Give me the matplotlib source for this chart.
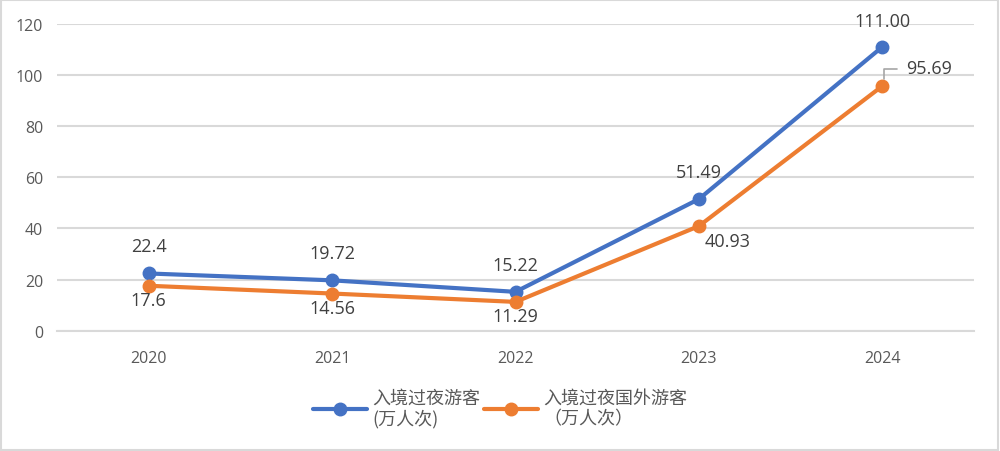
import matplotlib.pyplot as plt
import matplotlib.patches as mpatches

plt.rcParams['font.family'] = ['Noto Sans CJK SC', 'DejaVu Sans']

years = ['2020', '2021', '2022', '2023', '2024']
overnight = [22.4, 19.72, 15.22, 51.49, 111.00]
foreign = [17.6, 14.56, 11.29, 40.93, 95.69]
overnight_labels = ['22.4', '19.72', '15.22', '51.49', '111.00']
foreign_labels = ['17.6', '14.56', '11.29', '40.93', '95.69']

blue = '#4472C4'
orange = '#ED7D31'
grid_c = '#D9D9D9'
tick_c = '#595959'
lab_c = '#404040'
tick_font = ['Open Sans', 'DejaVu Sans']

fig = plt.figure(figsize=(10, 4.52), dpi=100)
ax = fig.add_axes([0.057, 0.266, 0.917, 0.679])

x = list(range(len(years)))
ax.plot(x, overnight, color=blue, lw=3, marker='o', ms=9, solid_capstyle='round',
        label='入境过夜游客\n(万人次)', zorder=3)
ax.plot(x, foreign, color=orange, lw=3, marker='o', ms=9, solid_capstyle='round',
        label='入境过夜国外游客\n（万人次）', zorder=3)

ax.set_xlim(-0.5, len(years) - 0.5)
ax.set_ylim(0, 120)
ax.set_yticks(range(0, 121, 20))
ax.set_xticks(x)
ax.set_xticklabels(years)
ax.yaxis.grid(True, color=grid_c, lw=1.5)
ax.set_axisbelow(True)
for s in ax.spines.values():
    s.set_visible(False)
ax.spines['bottom'].set_visible(True)
ax.spines['bottom'].set_color(grid_c)
ax.spines['bottom'].set_linewidth(1.5)
ax.tick_params(length=0, colors=tick_c, labelsize=11.5)
ax.tick_params(axis='x', pad=14)
ax.tick_params(axis='y', pad=10)
for t in ax.get_xticklabels() + ax.get_yticklabels():
    t.set_family(tick_font)

# data labels
for i in range(len(years)):
    dy = 13 if i < 4 else 12
    ax.annotate(overnight_labels[i], (x[i], overnight[i]), xytext=(0, dy),
                textcoords='offset points', ha='center', va='bottom',
                fontsize=13, color=lab_c, family=tick_font)
for i in range(3):
    ax.annotate(foreign_labels[i], (x[i], foreign[i]), xytext=(0, -4),
                textcoords='offset points', ha='center', va='top',
                fontsize=13, color=lab_c, family=tick_font)
ax.annotate(foreign_labels[3], (x[3], foreign[3]), xytext=(4, -4),
            textcoords='offset points', ha='left', va='top',
            fontsize=13, color=lab_c, family=tick_font)
ax.annotate(foreign_labels[4], (x[4], foreign[4]), xytext=(17, 13),
            textcoords='offset points', ha='left', va='center',
            fontsize=13, color=lab_c, family=tick_font)
# leader line for last orange label
ax.annotate('', (x[4] + 0.01, foreign[4] + 2.8), xytext=(x[4] + 0.08, foreign[4] + 6.5),
            textcoords='data',
            arrowprops=dict(arrowstyle='-', color='#A6A6A6', lw=1.2,
                            shrinkA=0, shrinkB=0,
                            connectionstyle='angle,angleA=0,angleB=90,rad=0'))

leg = fig.legend(loc='center', bbox_to_anchor=(0.5, 0.095), ncol=2, frameon=False,
                 fontsize=13, labelcolor=tick_c, handlelength=3.0,
                 handletextpad=0.3, columnspacing=0.2)

fig.patches.append(mpatches.Rectangle((0.001, 0.002), 0.997, 0.995, transform=fig.transFigure,
                                      fill=False, edgecolor='#D9D9D9', lw=1.5))

fig.savefig('out.png', dpi=100)
